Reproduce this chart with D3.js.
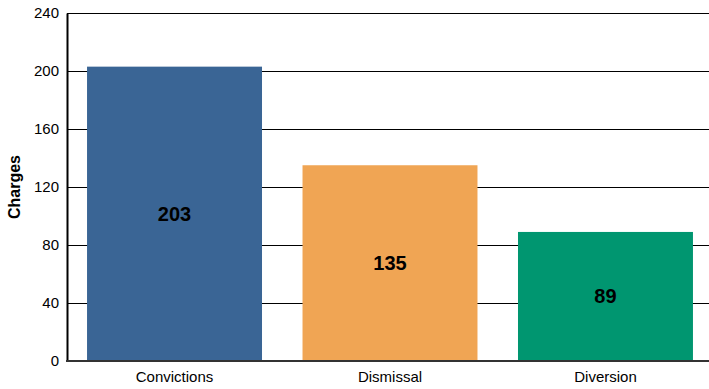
<!DOCTYPE html>
<html><head><meta charset="utf-8">
<script src="https://cdn.jsdelivr.net/npm/d3@7"></script>
<style>body{margin:0;background:#fff}svg{display:block;font-family:"Liberation Sans",Arial,sans-serif}</style>
</head><body><svg id="c" width="709" height="389"></svg>
<script>
const categories = ["Convictions", "Dismissal", "Diversion"];
const values = [203, 135, 89];
const colors = ["#3a6595", "#f0a554", "#009670"];
const yTicks = [0, 40, 80, 120, 160, 200, 240];

const svg = d3.select("#c");
const x = d3.scaleBand().domain(categories).range([67, 713]).paddingInner(0.188).paddingOuter(0.093);
const y = d3.scaleLinear().domain([0, 240]).range([361, 13]);

// gridlines
svg.append("g").selectAll("line").data(yTicks.filter(d => d > 0)).join("line")
  .attr("x1", 67).attr("x2", 709).attr("y1", d => y(d)).attr("y2", d => y(d))
  .attr("stroke", "#000").attr("stroke-width", 1).attr("shape-rendering", "crispEdges");

// bars
svg.append("g").selectAll("rect").data(values).join("rect")
  .attr("x", (d, i) => x(categories[i])).attr("width", x.bandwidth())
  .attr("y", d => y(d)).attr("height", d => y(0) - y(d))
  .attr("fill", (d, i) => colors[i]);

// value labels
svg.append("g").selectAll("text").data(values).join("text")
  .attr("x", (d, i) => x(categories[i]) + x.bandwidth() / 2)
  .attr("y", d => (y(d) + y(0)) / 2)
  .attr("dy", "0.35em").attr("text-anchor", "middle")
  .attr("font-size", 20).attr("font-weight", "bold").attr("fill", "#000")
  .text(d => d);

// y axis
const yAxis = d3.axisLeft(y).tickValues(yTicks).tickSize(0).tickPadding(8);
const gy = svg.append("g").attr("transform", "translate(67,0)").call(yAxis);
gy.select(".domain").attr("stroke", "#000").attr("stroke-width", 2);
gy.selectAll("text").attr("font-size", 15).attr("fill", "#000").attr("font-family", "Liberation Sans, Arial, sans-serif");

// x axis
const xAxis = d3.axisBottom(x).tickSize(0).tickPadding(10);
const gx = svg.append("g").attr("transform", "translate(0,361)").call(xAxis);
gx.select(".domain").attr("d", "M66,0H709").attr("stroke", "#333").attr("stroke-width", 2);
gx.selectAll("text").attr("font-size", 15).attr("fill", "#000").attr("font-family", "Liberation Sans, Arial, sans-serif");

// y label
svg.append("text").attr("transform", "translate(20,187) rotate(-90)")
  .attr("text-anchor", "middle").attr("font-size", 16).attr("font-weight", "bold")
  .text("Charges");
</script></body></html>
